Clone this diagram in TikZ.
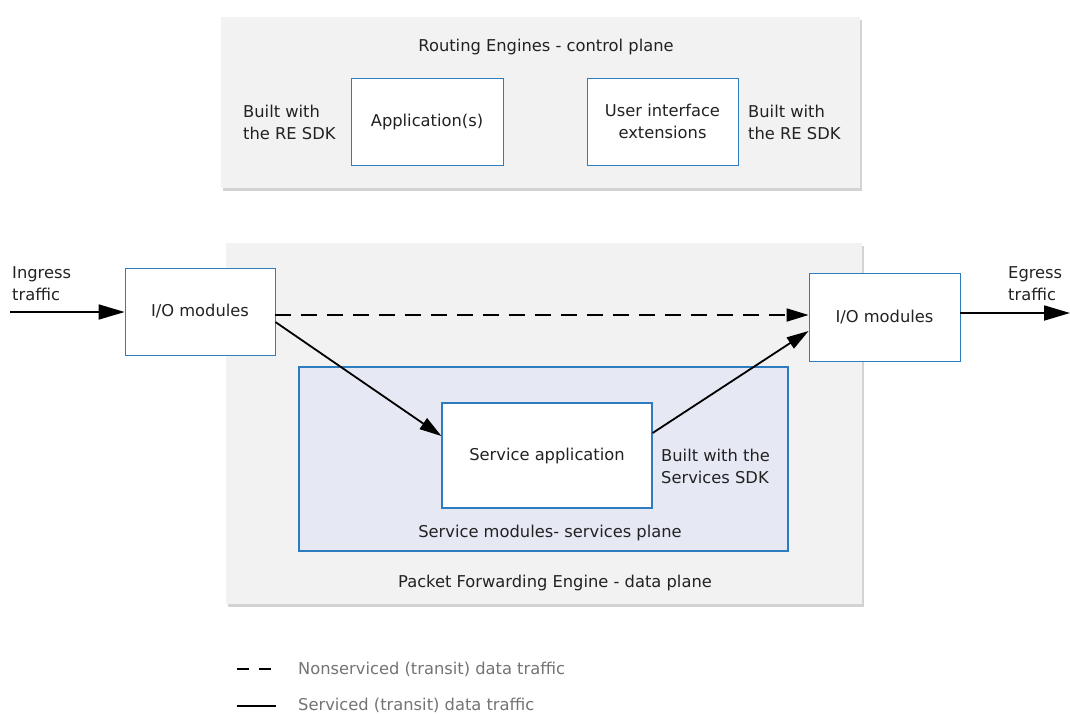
\documentclass[tikz,border=0pt]{standalone}
\usepackage{fontspec}
\setmainfont{DejaVu Sans}
\usepackage{tikz}
\usetikzlibrary{arrows.meta,shadows}

\definecolor{planegray}{HTML}{F2F2F2}
\definecolor{boxblue}{HTML}{2E7CC0}
\definecolor{svcfill}{HTML}{E6E9F4}
\definecolor{textgray}{HTML}{222222}

\tikzset{
  plane/.style={draw=none, fill=planegray, drop shadow={opacity=0.35, shadow xshift=2pt, shadow yshift=-3pt}},
  module/.style={draw=boxblue, fill=white, line width=0.8pt, align=center, text=textgray},
  note/.style={align=left, text=textgray, inner sep=0pt},
  flow/.style={line width=1.8pt, -{Triangle[length=22pt,width=13pt]}},
}

\begin{document}
\begin{tikzpicture}[x=1pt, y=-1pt, font=\fontsize{16.3}{22}\selectfont]
   \useasboundingbox (0,0) rectangle (1070,713);

   % control plane
   \filldraw[plane] (221,17) rectangle (860,188);
   \node[note] (retitle) at (546,47) {Routing Engines - control plane};
   \node[module, minimum width=152pt, minimum height=87pt] (app) at (427,121.5) {Application(s)};
   \node[module, minimum width=151pt, minimum height=87pt] (ui) at (662.5,121.5) {User interface\\extensions};
   \node[note, anchor=west] (sdkl) at (243,122) {Built with\\the RE SDK};
   \node[note, anchor=west] (sdkr) at (748,122) {Built with\\the RE SDK};

   % data plane
   \filldraw[plane] (226,243) rectangle (862,604);
   \node[note] (pfetitle) at (555,583) {Packet Forwarding Engine - data plane};
   \filldraw[draw=boxblue, fill=svcfill, line width=1.2pt] (299,367) rectangle (788,551);
   \node[note] (svctitle) at (550,533) {Service modules- services plane};
   \node[module, line width=1.2pt, minimum width=210pt, minimum height=105pt] (svcapp) at (547,455.5) {Service application};
   \node[note, anchor=west] (sdks) at (661,466) {Built with the\\Services SDK};

   \node[module, minimum width=150pt, minimum height=87pt] (ioin) at (200,311.5) {I/O modules};
   \node[module, minimum width=151pt, minimum height=88pt] (ioout) at (884.5,317) {I/O modules};

   % traffic
   \coordinate (ingress) at (10,312);
   \coordinate (egress) at (1070,313);
   \node[note, anchor=west] (inlbl) at (12,284) {Ingress\\traffic};
   \node[note, anchor=west] (outlbl) at (1008,284) {Egress\\traffic};
   \draw[flow, -{Triangle[length=26pt,width=15pt]}] (ingress) -- (ioin.west |- ingress);
   \draw[flow, -{Triangle[length=26pt,width=15pt]}] (ioout.east |- egress) -- (egress);
   \draw[flow, dash pattern=on 16pt off 10pt] (ioin.east |- 0,315) -- (ioout.west |- 0,315);
   \draw[flow] (ioin.east |- 0,322) -- (svcapp.west |- 0,436);
   \draw[flow] (svcapp.east |- 0,433) -- (ioout.west |- 0,331);

   % legend
   \draw[line width=1.8pt, dash pattern=on 12pt off 10pt] (237,669) coordinate (dl) -- (276,669) coordinate (dr);
   \node[note, anchor=west, text=black!55] (lgdash) at (298,669) {Nonserviced (transit) data traffic};
   \draw[line width=1.8pt] (237,706) coordinate (sl) -- (276,706) coordinate (sr);
   \node[note, anchor=west, text=black!55] (lgsolid) at (298,705) {Serviced (transit) data traffic};
\end{tikzpicture}
\end{document}
